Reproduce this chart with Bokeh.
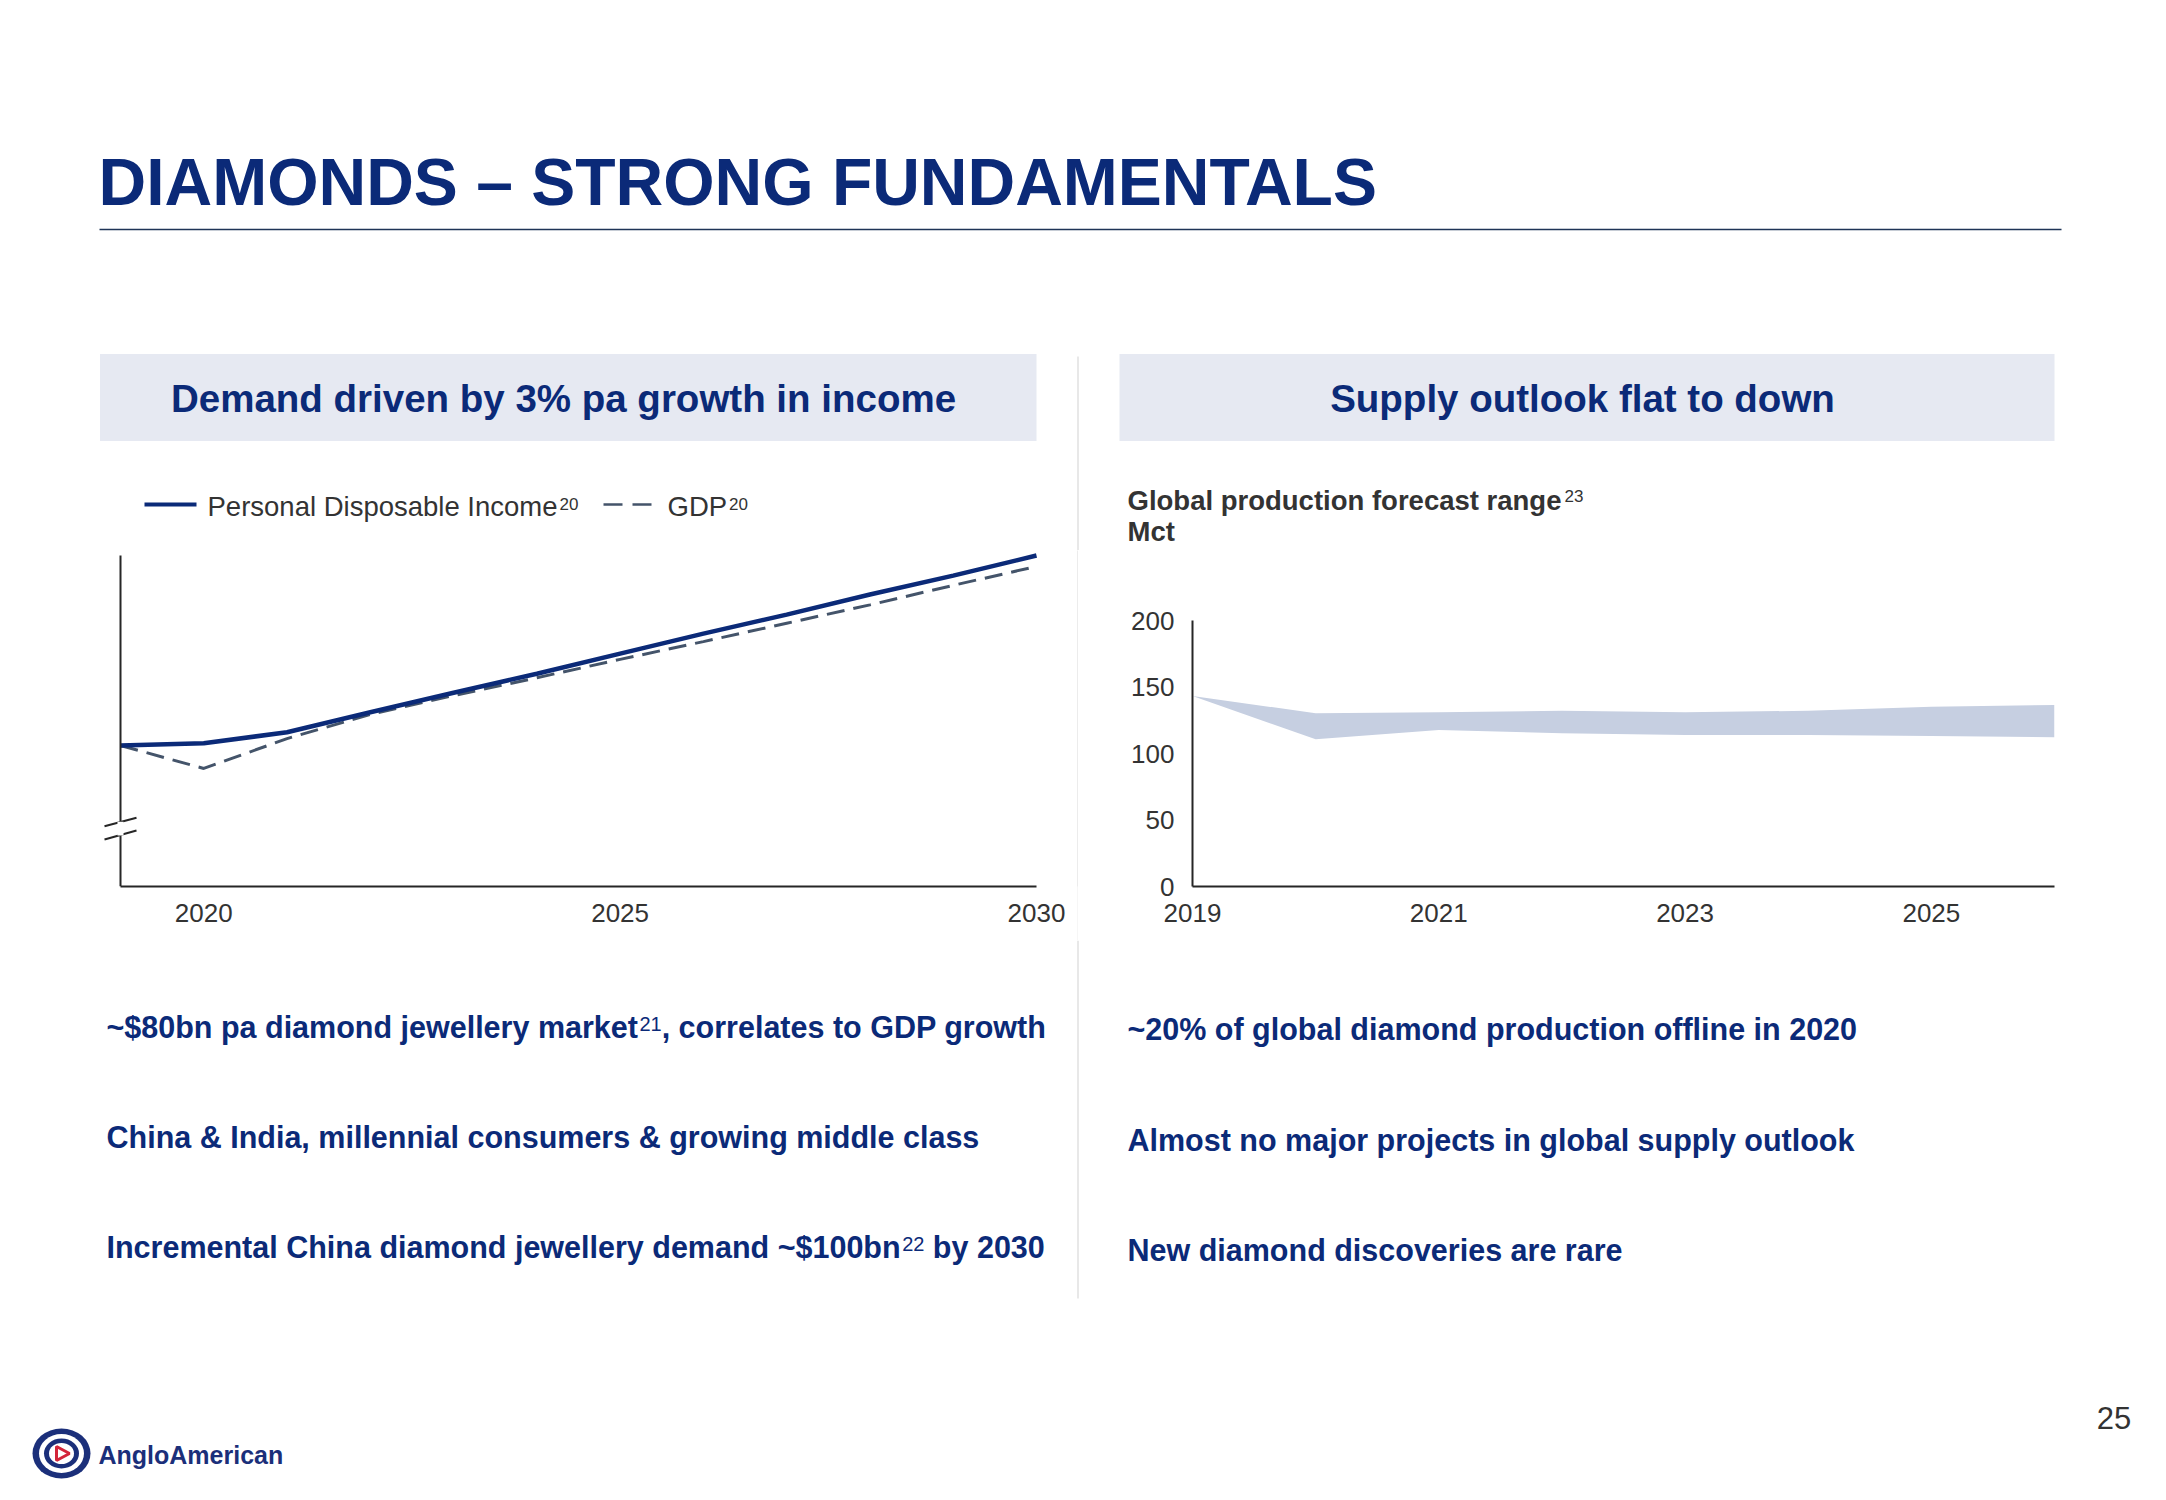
from bokeh.plotting import figure
from bokeh.models import Range1d, FixedTicker, BoxAnnotation
from bokeh.layouts import column, row
from bokeh.embed import file_html
from bokeh.resources import INLINE
from bokeh.core.properties import value

# ------------------------------------------------------------------ data
demand_years = [2019, 2020, 2021, 2022, 2023, 2024, 2025, 2026, 2027, 2028, 2029, 2030]
pdi_index = [100.0, 100.4, 102.3, 105.8, 109.2, 112.5, 116.0, 119.5, 122.8, 126.3, 129.6, 133.1]
gdp_index = [100.0, 96.0, 101.2, 105.4, 108.7, 111.8, 115.0, 118.1, 121.3, 124.5, 127.9, 131.2]
demand_ticks = [2020, 2025, 2030]

supply_years = [2019, 2020, 2021, 2022, 2023, 2024, 2025, 2026]
supply_low = [143.4, 110.8, 117.8, 115.3, 114.0, 114.0, 113.3, 112.3]
supply_high = [143.4, 130.4, 131.1, 132.3, 131.1, 132.3, 135.3, 136.6]
supply_yticks = [0, 50, 100, 150, 200]
supply_xticks = [2019, 2021, 2023, 2025]

title_text = "DIAMONDS \u2013 STRONG FUNDAMENTALS"
left_header = "Demand driven by 3% pa growth in income"
right_header = "Supply outlook flat to down"
legend_labels = ["Personal Disposable Income", "GDP"]
legend_refs = ["20", "20"]
supply_title = "Global production forecast range"
supply_ref = "23"
supply_unit = "Mct"
left_bullets = [
    ("~$80bn pa diamond jewellery market", "21", ", correlates to GDP growth"),
    ("China & India, millennial consumers & growing middle class", "", ""),
    ("Incremental China diamond jewellery demand ~$100bn", "22", " by 2030"),
]
right_bullets = [
    ("~20% of global diamond production offline in 2020", "", ""),
    ("Almost no major projects in global supply outlook", "", ""),
    ("New diamond discoveries are rare", "", ""),
]
page_number = "25"
logo_text = "AngloAmerican"

# ------------------------------------------------------------------ style
FONT = "Liberation Sans"
NAVY = "#0b2a78"
HEADER_BG = "#e6e9f2"
DARK = "#333333"
AXIS = "#262626"
GDP_COLOR = "#44546a"
BAND = "#c6cfe1"
DIVIDER = "#d9d9d9"
RULE = "#1f3457"

W = 2150
TOP_H, MID_H, BOT_H = 550, 390, 552      # rows: 0-550, 550-940, 940-1492
DIV_X = 1077.5

# Arial / Liberation Sans advance widths (1/1000 em) for placing superscripts
_BOLD = {" ": 278, "~": 584, "$": 556, "&": 722, ",": 278, "%": 889, "A": 722, "C": 722,
         "D": 722, "G": 778, "I": 278, "M": 833, "N": 722, "P": 667,
         "a": 556, "b": 611, "c": 556, "d": 611, "e": 556, "f": 333, "g": 611, "h": 611,
         "i": 278, "j": 278, "k": 556, "l": 278, "m": 889, "n": 611, "o": 611, "p": 611,
         "q": 611, "r": 389, "s": 556, "t": 333, "u": 611, "v": 556, "w": 778, "x": 556,
         "y": 556, "z": 500}
_REG = {" ": 278, "D": 722, "G": 778, "I": 278, "P": 667,
        "a": 556, "b": 556, "c": 500, "d": 556, "e": 556, "f": 278, "g": 556, "h": 556,
        "i": 222, "j": 222, "k": 500, "l": 222, "m": 833, "n": 556, "o": 556, "p": 556,
        "q": 556, "r": 333, "s": 500, "t": 278, "u": 556, "v": 500, "w": 722, "x": 500,
        "y": 500, "z": 500}


def tw(s, size, bold):
    table = _BOLD if bold else _REG
    return sum(table.get(c, 556) for c in s) * size / 1000.0


def txt(p, x, y, s, size, color, bold=False, align="left"):
    p.text(x=[x], y=[y], text=[s], text_font=value(FONT),
           text_font_size=value(f"{size}px"),
           text_font_style="bold" if bold else "normal",
           text_color=color, text_align=align, text_baseline="middle")


def canvas(h):
    return figure(width=W, height=h, x_range=Range1d(0, W), y_range=Range1d(h, 0),
                  x_axis_type=None, y_axis_type=None, toolbar_location=None,
                  output_backend="svg", min_border=0, outline_line_color=None,
                  background_fill_color="white", border_fill_color="white")


# ------------------------------------------------------------------ top band
top = canvas(TOP_H)
txt(top, 98, 181, title_text, 66, NAVY, bold=True)
top.segment(x0=[99], y0=[229], x1=[2061], y1=[229], line_color=RULE, line_width=1.5)
top.quad(left=[99.5, 1119], right=[1036, 2054], top=[353.5, 353.5], bottom=[440.5, 440.5],
         fill_color=HEADER_BG, line_color=None)
txt(top, 563, 397.5, left_header, 38.5, NAVY, bold=True, align="center")
txt(top, 1582, 397.5, right_header, 38.5, NAVY, bold=True, align="center")
top.segment(x0=[DIV_X], y0=[356], x1=[DIV_X], y1=[TOP_H], line_color=DIVIDER, line_width=1.2)

# legend of the demand chart
LEG = 27.5
SUP = 17
top.segment(x0=[144], y0=[504], x1=[196], y1=[504], line_color=NAVY, line_width=4)
txt(top, 207, 505.5, legend_labels[0], LEG, DARK)
txt(top, 207 + tw(legend_labels[0], LEG, False) + 2, 503, legend_refs[0], SUP, DARK)
top.segment(x0=[603], y0=[504], x1=[652], y1=[504], line_color=GDP_COLOR, line_width=2.5,
            line_dash="19 10")
txt(top, 667, 505.5, legend_labels[1], LEG, DARK)
txt(top, 667 + tw(legend_labels[1], LEG, False) + 2, 503, legend_refs[1], SUP, DARK)

# title of the supply chart
ST = 27.5
txt(top, 1127, 500, supply_title, ST, DARK, bold=True)
txt(top, 1127 + tw(supply_title, ST, True) + 3, 495.5, supply_ref, SUP, DARK)
txt(top, 1127, 531, supply_unit, ST, DARK, bold=True)

# ------------------------------------------------------------------ demand chart
PX_YR = 916 / 11.0            # 2019 at x=120, 2030 at x=1036
PX_UNIT = 5.74                # index 100 at y=745
FRAME_BOTTOM = 886
y_lo = 100 - (FRAME_BOTTOM - 745) / PX_UNIT
y_hi = 100 + (745 - TOP_H) / PX_UNIT
left = figure(width=1077, height=MID_H,
              x_range=Range1d(2019 - 20 / PX_YR, 2030 + 12 / PX_YR),
              y_range=Range1d(y_lo, y_hi),
              toolbar_location=None, output_backend="svg",
              min_border_left=100, min_border_right=29, min_border_top=0,
              min_border_bottom=MID_H - (FRAME_BOTTOM - TOP_H),
              outline_line_color=None, background_fill_color="white", border_fill_color="white")
left.xgrid.visible = False
left.ygrid.visible = False
xa = left.xaxis[0]
xa.ticker = FixedTicker(ticks=demand_ticks)
xa.bounds = (demand_years[0], demand_years[-1])
ya = left.yaxis[0]
ya.ticker = FixedTicker(ticks=[])
ya.fixed_location = demand_years[0]
ya.bounds = (y_lo, max(pdi_index))

left.line(demand_years, gdp_index, line_color=GDP_COLOR, line_width=3, line_dash="18 9")
left.line(demand_years, pdi_index, line_color=NAVY, line_width=4.5)

# axis-break marks on the value axis
bx0 = demand_years[0] - 16 / PX_YR
bx1 = demand_years[0] + 16 / PX_YR
left.add_layout(BoxAnnotation(left=demand_years[0] - 3 / PX_YR, right=demand_years[0] + 3 / PX_YR,
                              bottom=84.3, top=86.7, fill_color="white", fill_alpha=1,
                              line_color=None))
left.multi_line(xs=[[bx0, bx1], [bx0, bx1]], ys=[[85.94, 87.40], [83.62, 85.19]],
                line_color=AXIS, line_width=2, level="annotation")

# ------------------------------------------------------------------ supply chart
PX_MCT = 1.3285               # 0 at y=886, 200 at y=620
sp_top = (FRAME_BOTTOM - TOP_H) / PX_MCT
right = figure(width=W - 1078, height=MID_H,
               x_range=Range1d(supply_years[0], supply_years[-1]),
               y_range=Range1d(0, sp_top),
               toolbar_location=None, output_backend="svg",
               min_border_left=114, min_border_right=W - 2054, min_border_top=0,
               min_border_bottom=MID_H - (FRAME_BOTTOM - TOP_H),
               outline_line_color=None, background_fill_color="white", border_fill_color="white")
right.xgrid.visible = False
right.ygrid.visible = False
right.varea(x=supply_years, y1=supply_low, y2=supply_high, fill_color=BAND)
right.xaxis[0].ticker = FixedTicker(ticks=supply_xticks)
right.yaxis[0].ticker = FixedTicker(ticks=supply_yticks)
right.yaxis[0].bounds = (supply_yticks[0], supply_yticks[-1])
right.yaxis[0].major_label_standoff = 18

for p in (left, right):
    for ax in p.axis:
        ax.axis_line_color = AXIS
        ax.axis_line_width = 2
        ax.major_tick_line_color = None
        ax.minor_tick_line_color = None
        ax.major_tick_out = 0
        ax.major_tick_in = 0
        ax.major_label_text_font = FONT
        ax.major_label_text_color = DARK
        ax.major_label_text_font_size = "26px"
    p.xaxis[0].major_label_standoff = 17
ya.major_label_text_font_size = "0px"

divider = figure(width=1, height=MID_H, x_axis_type=None, y_axis_type=None,
                 toolbar_location=None, output_backend="svg", min_border=0,
                 outline_line_color=None, background_fill_color=DIVIDER,
                 border_fill_color=DIVIDER)

# ------------------------------------------------------------------ bottom band (y = page y - 940)
bot = canvas(BOT_H)
bot.segment(x0=[DIV_X], y0=[0], x1=[DIV_X], y1=[358], line_color=DIVIDER, line_width=1.2)

BS = 30.5
BSUP = 20
GAP = 1.5


def bullet(p, x, y, parts):
    head, sup, tail = parts
    txt(p, x, y, head, BS, NAVY, bold=True)
    if sup:
        xs = x + tw(head, BS, True) + GAP
        txt(p, xs, y - 3.5, sup, BSUP, NAVY)
        xt = xs + tw(sup, BSUP, True)
        if tail.startswith(" "):
            xt += tw(" ", BS, True)
        txt(p, xt, y, tail.strip(), BS, NAVY, bold=True)


for parts, yy in zip(left_bullets, [86.7, 196.7, 306.7]):
    bullet(bot, 106, yy, parts)
for parts, yy in zip(right_bullets, [88.8, 199.7, 309.7]):
    bullet(bot, 1127, yy, parts)

txt(bot, 2113.5, 477.5, page_number, 31, DARK, align="center")

# logo
bot.ellipse(x=[61], y=[513], width=[58], height=[50], fill_color="#1b2f7a", line_color=None)
bot.ellipse(x=[61], y=[513], width=[45], height=[39], fill_color="white", line_color=None)
bot.ellipse(x=[61], y=[513], width=[35], height=[30], fill_color="#1b2f7a", line_color=None)
bot.ellipse(x=[61], y=[513], width=[25], height=[21], fill_color="white", line_color=None)
bot.patch(x=[56, 56, 69], y=[506, 520, 513], fill_color="white", line_color="#d3253a",
          line_width=3)
txt(bot, 98, 514, logo_text, 25, "#1b2f7a", bold=True)

layout = column(top, row(left, divider, right), bot)
open("out.html", "w").write(file_html(layout, INLINE))
